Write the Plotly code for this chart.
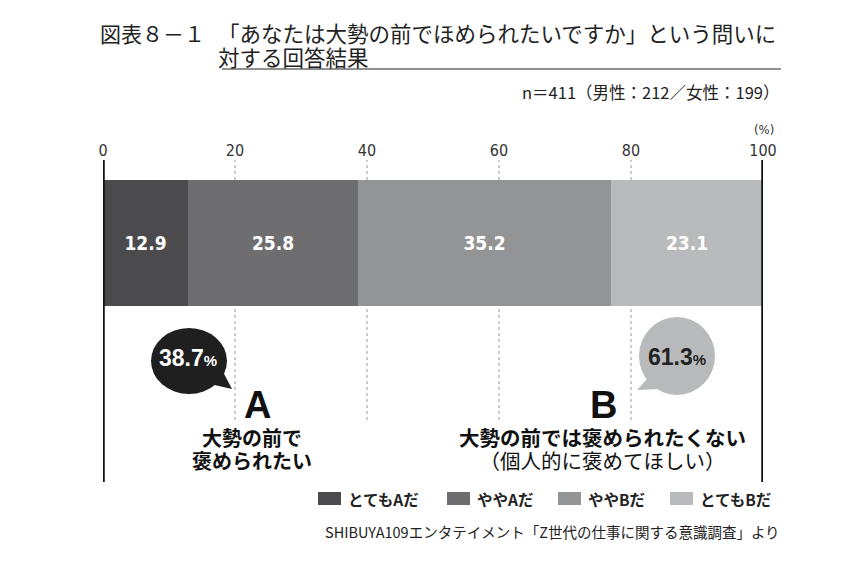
import plotly.graph_objects as go

# data
categories = ["とてもAだ", "ややAだ", "ややBだ", "とてもBだ"]
values = [12.9, 25.8, 38.2, 23.1]          # drawn segment lengths (bar reaches 100)
value_labels = ["12.9", "25.8", "35.2", "23.1"]  # labels as printed in the chart
colors = ["#4b4b4d", "#6e6e70", "#939496", "#b9babc"]
tick_vals = [0, 20, 40, 60, 80, 100]
share_a = 38.7
share_b = 61.3

W, H = 860, 564
L, R, T, B = 103, 97, 160, 82
JP = "Noto Sans CJK JP"
NUM = "DejaVu Sans Condensed, Liberation Sans, sans-serif"

# pixel -> paper helpers (plot area is fixed)
def px(x):
    return (x - L) / (W - L - R)

def py(y):
    return (H - B - y) / (H - T - B)

fig = go.Figure()

for cat, v, lab, c in zip(categories, values, value_labels, colors):
    fig.add_trace(go.Bar(
        x=[v], y=[0], orientation="h", width=126, name=cat,
        marker=dict(color=c, line=dict(width=0)),
        text=[lab], textposition="inside", insidetextanchor="middle",
        textangle=0,
        textfont=dict(color="white", size=19, family=NUM, weight="bold"),
        showlegend=False, hoverinfo="skip",
    ))

shapes = []
# dotted guide lines
for t in tick_vals[1:-1]:
    shapes.append(dict(type="line", xref="x", yref="paper", x0=t, x1=t,
                       y0=py(420), y1=1, layer="below",
                       line=dict(color="#999999", width=1, dash="dot")))
# thick frame lines at 0 and 100
for t in [tick_vals[0], tick_vals[-1]]:
    shapes.append(dict(type="line", xref="x", yref="paper", x0=t, x1=t,
                       y0=0, y1=1, line=dict(color="#111111", width=3.5)))

# speech bubbles
def bubble(cx, cy, rx, ry, tail, color):
    shapes.append(dict(type="circle", xref="paper", yref="paper",
                       x0=px(cx - rx), x1=px(cx + rx), y0=py(cy + ry), y1=py(cy - ry),
                       fillcolor=color, line=dict(width=0)))
    path = "M " + " L ".join(f"{px(a)},{py(b)}" for a, b in tail) + " Z"
    shapes.append(dict(type="path", xref="paper", yref="paper", path=path,
                       fillcolor=color, line=dict(width=0)))

bubble(189, 361, 38, 33, [(210, 384), (232, 389), (222, 370)], "#1f1f1f")
bubble(677, 356, 38, 39, [(648, 378), (637, 390), (660, 389)], "#b9babc")

# title underline
shapes.append(dict(type="line", xref="paper", yref="paper", x0=px(222), x1=px(781),
                   y0=py(69), y1=py(69), line=dict(color="#222222", width=1.2)))

# legend swatches
leg_x = [318, 447, 558, 670]
for x0, c in zip(leg_x, colors):
    shapes.append(dict(type="rect", xref="paper", yref="paper",
                       x0=px(x0), x1=px(x0 + 23), y0=py(505), y1=py(492),
                       fillcolor=c, line=dict(width=0)))

ann = []
def text(x, y, s, size, color="#222222", anchor="left", family=JP, weight="normal", align="center"):
    ann.append(dict(xref="paper", yref="paper", x=px(x), y=py(y), text=s,
                    showarrow=False, xanchor=anchor, yanchor="middle", align=align,
                    font=dict(size=size, color=color, family=family, weight=weight)))

def sz(s, size, bold=False):
    w = "font-weight:bold;" if bold else ""
    return f"<span style='font-size:{size}px;{w}'>{s}</span>"

text(98, 33, "図表８－１", 21)
# two-line title: small base size keeps the tight line pitch of the original
text(216, 45, sz("「あなたは大勢の前でほめられたいですか」という問いに", 21.5) + "<br>"
     + sz("対する回答結果", 21.5), 18.5, anchor="left", align="left")
text(781, 92, "n＝411（男性：212／女性：199）", 16.5, anchor="right")
text(764, 130, "(%)", 13, color="#333333", anchor="center", family=NUM)

text(188, 358, f"{share_a}<span style='font-size:15px'>%</span>", 23, color="white",
     anchor="center", family="Liberation Sans", weight="bold")
text(677, 357, f"{share_b}<span style='font-size:15px'>%</span>", 23, color="#222222",
     anchor="center", family="Liberation Sans", weight="bold")

text(257, 405, "A", 38, color="#111111", anchor="center", family="Liberation Sans", weight="bold")
text(603, 405, "B", 38, color="#111111", anchor="center", family="Liberation Sans", weight="bold")
text(252, 449, sz("大勢の前で", 20, True) + "<br>" + sz("褒められたい", 20, True),
     18, color="#111111", anchor="center")
text(602, 448, sz("大勢の前では褒められたくない", 20.5, True) + "<br>"
     + sz("（個人的に褒めてほしい）", 20.5), 17.5, color="#111111", anchor="center")

for x0, cat in zip(leg_x, categories):
    text(x0 + 28, 499, cat, 15.5, color="#222222", weight="bold")

text(782, 531, "SHIBUYA109エンタテイメント「Z世代の仕事に関する意識調査」より", 14.5,
     color="#222222", anchor="right")

fig.update_layout(
    width=W, height=H, barmode="stack",
    margin=dict(l=L, r=R, t=T, b=B),
    plot_bgcolor="white", paper_bgcolor="white",
    shapes=shapes, annotations=ann,
    xaxis=dict(range=[0, 100], side="top", tickvals=tick_vals,
               showgrid=False, zeroline=False, showline=False, ticks="",
               tickfont=dict(size=16, color="#333333", family=NUM),
               fixedrange=True),
    yaxis=dict(range=[-239, 83], visible=False, fixedrange=True),
    bargap=0,
)

fig.write_html("out.html", config={"displayModeBar": False},
               post_script="document.body.style.margin='0px';")
